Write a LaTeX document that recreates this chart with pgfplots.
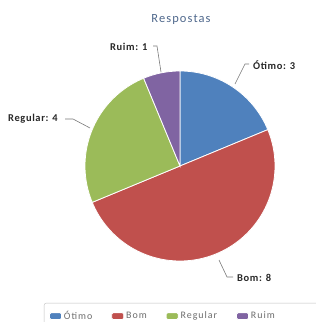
\documentclass[border=0pt]{standalone}
\usepackage{pgfplots}
\pgfplotsset{compat=1.18}
\usepackage{fontspec}
\setmainfont{Carlito}
\definecolor{cA}{HTML}{4F81BD}
\definecolor{cB}{HTML}{C0504D}
\definecolor{cC}{HTML}{9BBB59}
\definecolor{cD}{HTML}{8064A2}
\definecolor{ttl}{RGB}{79,104,140}
\definecolor{lbl}{RGB}{40,40,40}
\definecolor{leg}{RGB}{110,110,110}
\definecolor{lead}{RGB}{120,120,120}
% values: Otimo 3, Bom 8, Regular 4, Ruim 1
\def\vA{3}\def\vB{8}\def\vC{4}\def\vD{1}
\begin{document}
\begin{tikzpicture}
\useasboundingbox (0,0) rectangle (316bp,322bp);
\pgfmathsetmacro{\tot}{\vA+\vB+\vC+\vD}
\pgfmathsetmacro{\aA}{90}
\pgfmathsetmacro{\aB}{\aA-360*\vA/\tot}
\pgfmathsetmacro{\aC}{\aB-360*\vB/\tot}
\pgfmathsetmacro{\aD}{\aC-360*\vC/\tot}
\pgfmathsetmacro{\aE}{\aD-360*\vD/\tot}
\begin{axis}[at={(0,0)}, anchor=south west, x=95bp, y=95bp,
  xmin=-1.8947, xmax=1.4316, ymin=-1.6421, ymax=1.7474,
  hide axis, clip=false,
  legend columns=4,
  legend image code/.code={\fill[#1, rounded corners=1.5bp] (0bp,-3.5bp) rectangle (12bp,3.5bp);},
  legend style={at={(0.13924,0.05901)}, anchor=north west,
    draw=black!25, rounded corners=2bp, fill=white,
    font=\fontsize{10}{12}\selectfont\addfontfeatures{LetterSpace=10}, text=leg,
    inner xsep=5bp, inner ysep=6bp,
    nodes={inner sep=2bp},
    /tikz/every even column/.append style={column sep=17bp}},
]
\addplot[fill=cA, draw=white, line width=0.8bp, domain=\aB:\aA, samples=60, variable=\t] ({cos(t)},{sin(t)}) -- (axis cs:0,0) -- cycle;
\addlegendentry{Ótimo}
\addplot[fill=cB, draw=white, line width=0.8bp, domain=\aC:\aB, samples=120, variable=\t] ({cos(t)},{sin(t)}) -- (axis cs:0,0) -- cycle;
\addlegendentry{Bom}
\addplot[fill=cC, draw=white, line width=0.8bp, domain=\aD:\aC, samples=70, variable=\t] ({cos(t)},{sin(t)}) -- (axis cs:0,0) -- cycle;
\addlegendentry{Regular}
\addplot[fill=cD, draw=white, line width=0.8bp, domain=\aE:\aD, samples=30, variable=\t] ({cos(t)},{sin(t)}) -- (axis cs:0,0) -- cycle;
\addlegendentry{Ruim\hspace*{40bp}}
\end{axis}
% title
\node[anchor=base, inner sep=0, text=ttl, font=\fontsize{12.5}{14}\selectfont\addfontfeatures{LetterSpace=9}] at (181bp,299bp) {Respostas};
% data labels
\begin{scope}[every node/.style={anchor=base west, inner sep=0, text=lbl, font=\fontsize{10.5}{12}\selectfont\bfseries\addfontfeatures{LetterSpace=6}}]
\node at (110bp,271.5bp) {Ruim: 1};
\node at (253bp,252.5bp) {Ótimo: 3};
\node at (8bp,200.5bp) {Regular: 4};
\node at (237bp,40.5bp) {Bom: 8};
\end{scope}
\begin{scope}[draw=lead, line width=0.6bp]
\draw (153bp,276bp) -- (157bp,276bp) -- (161bp,250bp);
\draw (249bp,258bp) -- (245bp,258bp) -- (235bp,238bp);
\draw (65bp,203bp) -- (73bp,203bp) -- (90bp,194bp);
\draw (233bp,45bp) -- (227bp,45bp) -- (219bp,62bp);
\end{scope}
\end{tikzpicture}
\end{document}
